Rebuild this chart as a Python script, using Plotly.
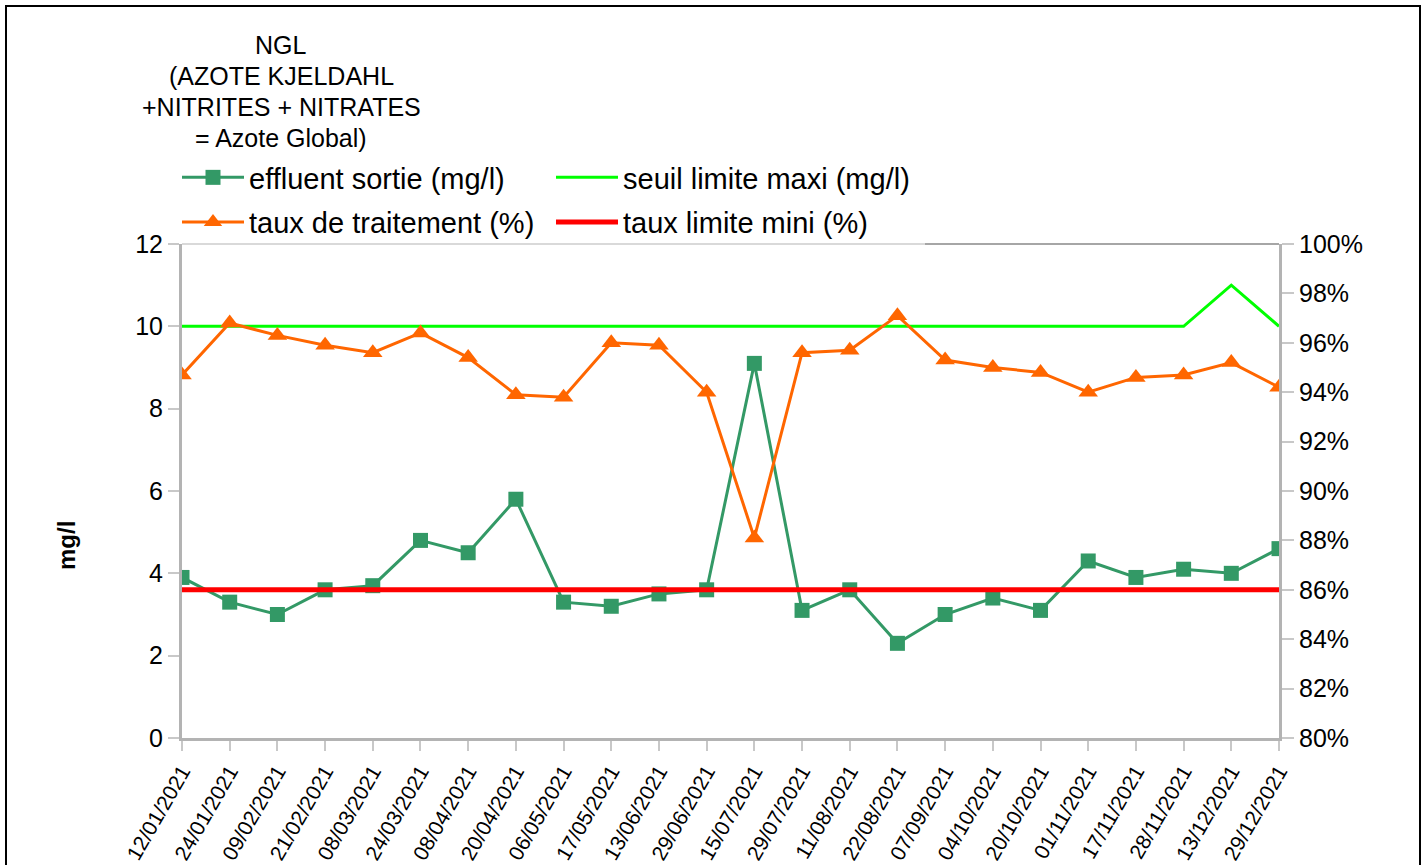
import plotly.graph_objects as go

dates = ["12/01/2021", "24/01/2021", "09/02/2021", "21/02/2021", "08/03/2021", "24/03/2021",
         "08/04/2021", "20/04/2021", "06/05/2021", "17/05/2021", "13/06/2021", "29/06/2021",
         "15/07/2021", "29/07/2021", "11/08/2021", "22/08/2021", "07/09/2021", "04/10/2021",
         "20/10/2021", "01/11/2021", "17/11/2021", "28/11/2021", "13/12/2021", "29/12/2021"]
effluent = [3.9, 3.3, 3.0, 3.6, 3.7, 4.8, 4.5, 5.8, 3.3, 3.2, 3.5, 3.6,
            9.1, 3.1, 3.6, 2.3, 3.0, 3.4, 3.1, 4.3, 3.9, 4.1, 4.0, 4.6]
seuil_maxi = [10, 10, 10, 10, 10, 10, 10, 10, 10, 10, 10, 10,
              10, 10, 10, 10, 10, 10, 10, 10, 10, 10, 11, 10]
taux_traitement = [94.7, 96.8, 96.3, 95.9, 95.6, 96.4, 95.4, 93.9, 93.8, 96.0, 95.9, 94.0,
                   88.1, 95.6, 95.7, 97.1, 95.3, 95.0, 94.8, 94.0, 94.6, 94.7, 95.2, 94.2]
taux_mini = [86] * 24
title_lines = ["NGL", "(AZOTE KJELDAHL", "+NITRITES + NITRATES", "= Azote Global)"]

FONT = "Liberation Sans"

fig = go.Figure()
fig.add_trace(go.Scatter(x=dates, y=effluent, name="effluent sortie (mg/l)", mode="lines+markers",
                         legend="legend", legendgroup="a",
                         line=dict(color="#339966", width=3),
                         marker=dict(symbol="square", size=15, color="#339966")))
fig.add_trace(go.Scatter(x=dates, y=seuil_maxi, name="seuil limite maxi (mg/l)", mode="lines",
                         legend="legend2", legendgroup="b",
                         line=dict(color="#00ff00", width=3)))
fig.add_trace(go.Scatter(x=dates, y=[v / 100 for v in taux_traitement], name="taux de traitement (%)",
                         mode="lines+markers", yaxis="y2", legend="legend", legendgroup="c",
                         line=dict(color="#ff6600", width=3),
                         marker=dict(symbol="triangle-up", size=17, color="#ff6600")))
fig.add_trace(go.Scatter(x=dates, y=[v / 100 for v in taux_mini], name="taux limite mini (%)",
                         mode="lines", yaxis="y2", legend="legend2", legendgroup="d",
                         line=dict(color="#ff0000", width=5)))

W, H = 1427, 865
L, R, T, B = 182, 148, 244, 127
pw, ph = W - L - R, H - T - B

def px(x):
    return (x - L) / pw

def py(y):
    return (H - B - y) / ph

leg_common = dict(orientation="v", yanchor="top", xanchor="left", itemwidth=62,
                  font=dict(size=29, family=FONT, color="black"),
                  bgcolor="rgba(0,0,0,0)", tracegroupgap=4, traceorder="grouped")

annotations = [
    dict(text=line, xref="paper", yref="paper", x=px(281), y=py(45 + 31 * i),
         xanchor="center", yanchor="middle", showarrow=False,
         font=dict(size=25, family=FONT, color="black"))
    for i, line in enumerate(title_lines)
]
annotations.append(
    dict(text="<b>mg/l</b>", xref="paper", yref="paper", x=px(66), y=py(546),
         xanchor="center", yanchor="middle", showarrow=False, textangle=-90,
         font=dict(size=24, family=FONT, color="black")))

fig.update_layout(
    width=W, height=H,
    margin=dict(l=L, r=R, t=T, b=B),
    paper_bgcolor="white", plot_bgcolor="white",
    font=dict(family=FONT, size=25, color="black"),
    showlegend=True,
    legend=dict(x=px(177), y=py(152), **leg_common),
    legend2=dict(x=px(551), y=py(152), **leg_common),
    xaxis=dict(type="category", range=[0, len(dates) - 1], showline=True, linecolor="#b3b3b3",
               linewidth=3, ticks="outside", ticklen=10, tickcolor="#c8c8c8", tickwidth=2,
               tickangle=-60, tickfont=dict(size=21), showgrid=False, zeroline=False,
               automargin=False),
    yaxis=dict(range=[0, 12], dtick=2, showline=True, linecolor="#b3b3b3", linewidth=3,
               ticks="outside", ticklen=11, tickcolor="#c8c8c8", tickwidth=2,
               showgrid=False, zeroline=False, tickfont=dict(size=25), automargin=False),
    yaxis2=dict(range=[0.8, 1.0], dtick=0.02, tickformat=".0%", overlaying="y", side="right",
                showline=True, linecolor="#b3b3b3", linewidth=3,
                ticks="outside", ticklen=12, tickcolor="#c8c8c8", tickwidth=2,
                showgrid=False, zeroline=False, tickfont=dict(size=25), automargin=False),
    annotations=annotations,
    shapes=[
        dict(type="line", xref="paper", yref="paper", x0=0, x1=1, y0=1, y1=1,
             line=dict(color="#d9d9d9", width=2)),
        dict(type="line", xref="paper", yref="paper", x0=px(925), x1=1, y0=1, y1=1,
             line=dict(color="#a6a6a6", width=2)),
        dict(type="rect", xref="paper", yref="paper", x0=px(6), x1=px(1420), y0=py(6), y1=py(880),
             line=dict(color="black", width=2), layer="below"),
    ],
)

fig.write_html("out.html", config={"displayModeBar": False},
               post_script="document.body.style.margin='0px';")
